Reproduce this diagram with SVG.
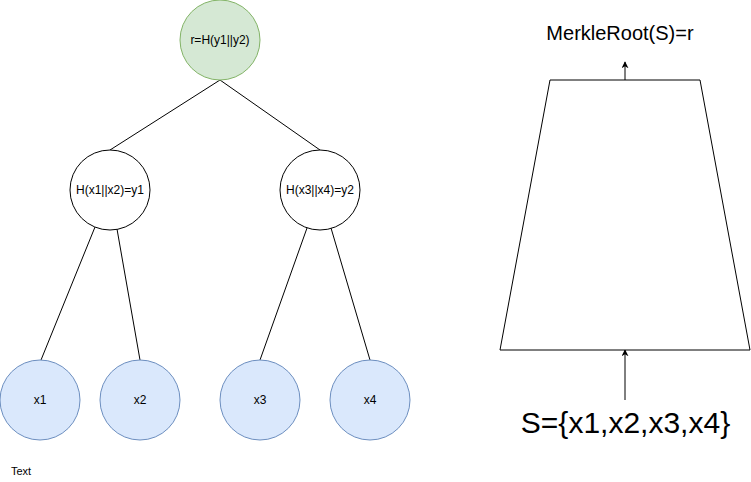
<svg xmlns="http://www.w3.org/2000/svg" width="751" height="482" viewBox="0 0 751 482">
<style>
text{font-family:"Liberation Sans",Arial,sans-serif;fill:#000}
.c{text-anchor:middle}
.s12{font-size:12px}
.green{fill:#d5e8d4;stroke:#82b366;stroke-width:1}
.blue{fill:#dae8fc;stroke:#6c8ebf;stroke-width:1}
.white{fill:#fff;stroke:#000;stroke-width:1}
.edge{stroke:#000;stroke-width:1;fill:none}
</style>
<defs>
<marker id="arr" viewBox="0 0 10 10" refX="9" refY="5" markerWidth="7" markerHeight="7" orient="auto" markerUnits="userSpaceOnUse">
<path d="M0,0 L10,5 L0,10 L3,5 Z" fill="#000"/>
</marker>
</defs>
<rect width="751" height="482" fill="#fff"/>
<g id="connectors">
<line class="edge" x1="220" y1="80" x2="110" y2="150"/>
<line class="edge" x1="220" y1="80" x2="320" y2="150"/>
<line class="edge" x1="95" y1="227" x2="41" y2="360"/>
<line class="edge" x1="117" y1="229" x2="140" y2="360"/>
<line class="edge" x1="307" y1="228" x2="260" y2="360"/>
<line class="edge" x1="331" y1="228" x2="370" y2="360"/>
<line class="edge" x1="625" y1="80" x2="625" y2="62" marker-end="url(#arr)"/>
<line class="edge" x1="625" y1="400" x2="625" y2="350" marker-end="url(#arr)"/>
</g>
<g id="root">
<circle class="green" cx="220" cy="40" r="40"/>
<text class="c s12" x="220" y="44">r=H(y1||y2)</text>
</g>
<g id="y1">
<circle class="white" cx="110" cy="190" r="40"/>
<text class="c s12" x="110" y="194">H(x1||x2)=y1</text>
</g>
<g id="y2">
<circle class="white" cx="320" cy="190" r="40"/>
<text class="c s12" x="320" y="194">H(x3||x4)=y2</text>
</g>
<g id="x1">
<circle class="blue" cx="40" cy="400" r="40"/>
<text class="c s12" x="40" y="404">x1</text>
</g>
<g id="x2">
<circle class="blue" cx="140" cy="400" r="40"/>
<text class="c s12" x="140" y="404">x2</text>
</g>
<g id="x3">
<circle class="blue" cx="260" cy="400" r="40"/>
<text class="c s12" x="260" y="404">x3</text>
</g>
<g id="x4">
<circle class="blue" cx="370" cy="400" r="40"/>
<text class="c s12" x="370" y="404">x4</text>
</g>
<g id="label-text">
<text x="11" y="475" font-size="11">Text</text>
</g>
<g id="trapezoid">
<polygon points="550,80 700,80 750,350 500,350" fill="#fff" stroke="#000" stroke-width="1"/>
</g>
<g id="merkle-root-label">
<text class="c" x="620" y="40" font-size="20">MerkleRoot(S)=r</text>
</g>
<g id="set-label">
<text class="c" x="625.5" y="433" font-size="30">S={x1,x2,x3,x4}</text>
</g>
</svg>
